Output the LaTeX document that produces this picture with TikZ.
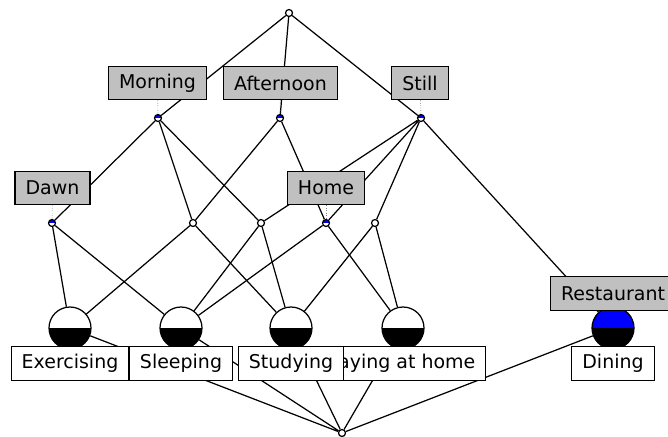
\documentclass[tikz,border=0pt]{standalone}
\usepackage{fontspec}
\setmainfont{DejaVu Sans}
\definecolor{attrgray}{RGB}{192,192,192}
\definecolor{attrblue}{RGB}{0,0,255}
\tikzset{
	concept/.style={circle, draw, line width=0.7pt, inner sep=0pt, minimum size=1.4mm, fill=white},
	ownattr/.style={concept, fill=attrblue,
		path picture={\fill[white] (path picture bounding box.west) rectangle (path picture bounding box.south east);}},
	object/.style={circle, draw, line width=0.7pt, inner sep=0pt, minimum size=8.4mm, fill=white,
		path picture={\fill[black] (path picture bounding box.west) rectangle (path picture bounding box.south east);}},
	lbl/.style={draw, line width=0.7pt, inner xsep=2.1mm, minimum height=6.7mm,
		font=\fontsize{10.8}{13}\selectfont},
	attrlbl/.style={lbl, fill=attrgray},
	objlbl/.style={lbl, fill=white},
	lblline/.style={densely dotted, line width=0.4pt, gray}
}
\begin{document}
\begin{tikzpicture}[x=0.2mm, y=-0.2mm, line width=0.7pt]
	\useasboundingbox (0,0) rectangle (668,436);

	% concepts
	\node[concept] (top) at (289,13) {};
	\node[ownattr] (morning) at (158,118) {};
	\node[ownattr] (afternoon) at (280,118) {};
	\node[ownattr] (still) at (421,118) {};
	\node[ownattr] (dawn) at (52,223) {};
	\node[concept] (c1) at (193,223) {};
	\node[concept] (c2) at (261,223) {};
	\node[ownattr] (home) at (326,223) {};
	\node[concept] (c3) at (375,223) {};
	\node[object] (exercising) at (70,328) {};
	\node[object] (sleeping) at (181,328) {};
	\node[object] (studying) at (291,328) {};
	\node[object] (staying) at (403,328) {};
	\node[object, fill=attrblue] (dining) at (613,328) {};
	\node[concept] (bottom) at (342,433) {};

	% lattice lines
	\draw (top) -- (morning) (top) -- (afternoon) (top) -- (still);
	\draw (morning) -- (dawn) (morning) -- (c1) (morning) -- (c2);
	\draw (afternoon) -- (c1) (afternoon) -- (home);
	\draw (still) -- (c2) (still) -- (home) (still) -- (c3) (still) -- (dining);
	\draw (dawn) -- (exercising) (dawn) -- (sleeping);
	\draw (c1) -- (exercising) (c1) -- (studying);
	\draw (c2) -- (sleeping) (c2) -- (studying);
	\draw (home) -- (sleeping) (home) -- (staying);
	\draw (c3) -- (studying) (c3) -- (staying);
	\draw (exercising) -- (bottom) (sleeping) -- (bottom) (studying) -- (bottom);
	\draw (staying) -- (bottom) (dining) -- (bottom);

	% attribute labels
	\node[attrlbl] (lmorning) at (157.5,83) {Morning};
	\node[attrlbl] (lafternoon) at (280.5,83) {Afternoon};
	\node[attrlbl] (lstill) at (420,83) {Still};
	\node[attrlbl] (ldawn) at (52.5,188) {Dawn};
	\node[attrlbl] (lhome) at (326,188) {Home};
	\node[attrlbl] (lrestaurant) at (613,293.5) {Restaurant};
	\draw[lblline] (lmorning) -- (morning);
	\draw[lblline] (lafternoon) -- (afternoon);
	\draw[lblline] (lstill) -- (still);
	\draw[lblline] (ldawn) -- (dawn);
	\draw[lblline] (lhome) -- (home);

	% object labels
	\node[objlbl] (lexercising) at (70,363.5) {Exercising};
	\node[objlbl] (lsleeping) at (181,363.5) {Sleeping};
	\node[objlbl] (lstaying) at (397,363.5) {Staying at home};
	\node[objlbl] (lstudying) at (291,363.5) {Studying};
	\node[objlbl] (ldining) at (613,363.5) {Dining};
\end{tikzpicture}
\end{document}
